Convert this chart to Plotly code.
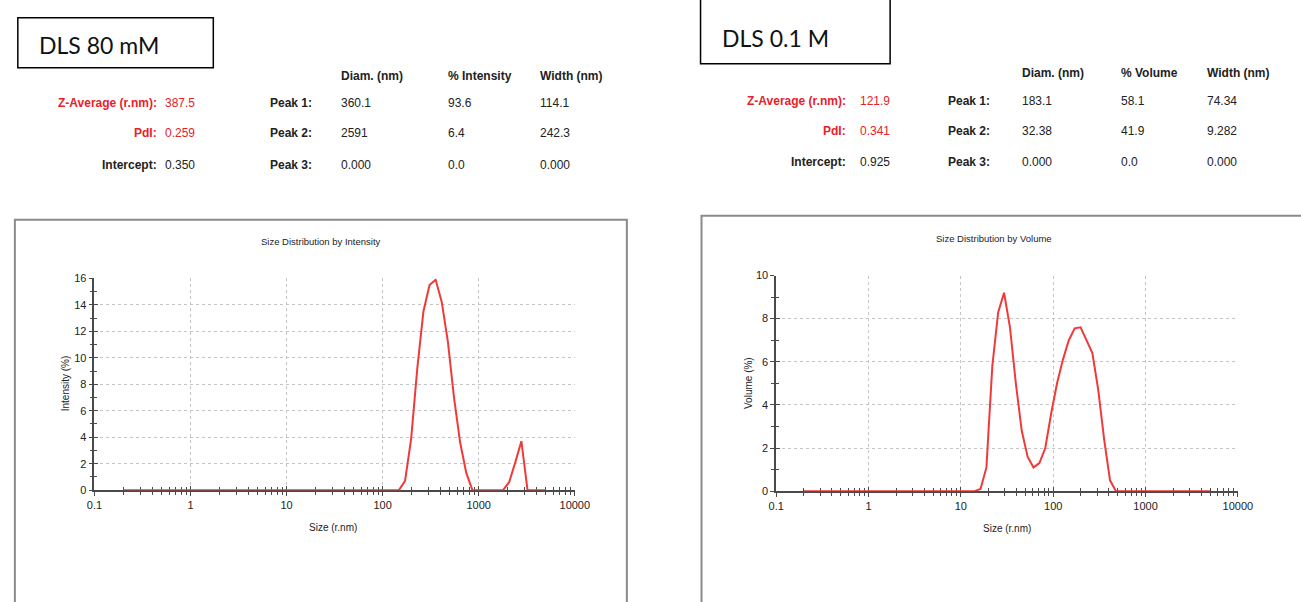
import plotly.graph_objects as go

W, H = 1301, 602

# Size distribution by intensity, 80 mM sample (radius bins in nm, intensity %)
int_size = [0.2, 147.65, 171.0, 198.05, 229.35, 265.6, 307.55, 356.2, 412.5, 477.7,
            553.0, 640.5, 742.0, 859.0, 1790.0, 2072.5, 2400.5, 2780.0, 3219.5, 5000.0]
int_pct = [0, 0, 0.7, 3.9, 9.2, 13.5, 15.5, 15.9, 14.2, 11.2,
           7.0, 3.6, 1.3, 0, 0, 0.6, 2.1, 3.7, 0, 0]

# Size distribution by volume, 0.1 M sample (radius bins in nm, volume %)
vol_size = [0.2, 14.105, 16.335, 18.92, 21.91, 25.375, 29.385, 34.03, 39.41, 45.64,
            52.85, 61.2, 70.9, 82.1, 95.05, 110.1, 127.5, 147.65, 171.0, 198.05,
            229.35, 265.6, 307.55, 356.2, 412.5, 477.7, 5000.0]
vol_pct = [0, 0, 0.1, 1.1, 5.8, 8.3, 9.2, 7.6, 5.0, 2.8,
           1.6, 1.1, 1.3, 2.0, 3.6, 5.0, 6.1, 7.0, 7.55, 7.6,
           7.0, 6.4, 4.7, 2.4, 0.5, 0, 0]

# Summary tables
stat_labels = ["Z-Average (r.nm):", "PdI:", "Intercept:"]
peak_labels = ["Peak 1:", "Peak 2:", "Peak 3:"]

left_title = "DLS 80 mM"
left_cols = ["Diam. (nm)", "% Intensity", "Width (nm)"]
left_stats = ["387.5", "0.259", "0.350"]
left_diam = ["360.1", "2591", "0.000"]
left_pct = ["93.6", "6.4", "0.0"]
left_width = ["114.1", "242.3", "0.000"]

right_title = "DLS 0.1 M"
right_cols = ["Diam. (nm)", "% Volume", "Width (nm)"]
right_stats = ["121.9", "0.341", "0.925"]
right_diam = ["183.1", "32.38", "0.000"]
right_pct = ["58.1", "41.9", "0.0"]
right_width = ["74.34", "9.282", "0.000"]

x_ticks = [0.1, 1, 10, 100, 1000, 10000]
x_ticktext = ["0.1", "1", "10", "100", "1000", "10000"]
x_minor = [m * d for d in [0.1, 1, 10, 100, 1000] for m in range(2, 10)]

RED = "#f03a3a"
TXT_RED = "#e8202a"
AX = "#4a4a4a"
GRID = "#c4c4c4"
FONT = "Liberation Sans, Arial, sans-serif"


def px(x):
    return x / W


def py(y):
    return 1 - y / H


fig = go.Figure()
fig.add_trace(go.Scatter(x=int_size, y=int_pct, mode="lines",
                         line=dict(color=RED, width=2), xaxis="x", yaxis="y",
                         showlegend=False, hoverinfo="skip"))
fig.add_trace(go.Scatter(x=vol_size, y=vol_pct, mode="lines",
                         line=dict(color=RED, width=2), xaxis="x2", yaxis="y2",
                         showlegend=False, hoverinfo="skip"))
# empty traces that carry the inner tick marks of each chart
fig.add_trace(go.Scatter(x=[], y=[], xaxis="x3", yaxis="y3", showlegend=False))
fig.add_trace(go.Scatter(x=[], y=[], xaxis="x4", yaxis="y4", showlegend=False))


def xaxis_cfg(x0, x1, anchor):
    return dict(type="log", range=[-1, 4], domain=[px(x0), px(x1)], anchor=anchor,
                tickmode="array", tickvals=x_ticks, ticktext=x_ticktext,
                showgrid=True, gridcolor=GRID, griddash="dot", gridwidth=1,
                showline=True, linecolor=AX, linewidth=1.5,
                ticks="outside", ticklen=4, tickcolor=AX,
                minor=dict(tickmode="array", tickvals=x_minor, ticks="outside",
                           ticklen=3, tickcolor=AX, showgrid=False),
                tickfont=dict(family=FONT, size=11, color="#222"),
                layer="below traces", zeroline=False, fixedrange=True)


def yaxis_cfg(y0, y1, top, anchor):
    return dict(range=[0, top], domain=[py(y1), py(y0)], anchor=anchor,
                dtick=2, tick0=0,
                showgrid=True, gridcolor=GRID, griddash="dot", gridwidth=1,
                showline=True, linecolor=AX, linewidth=1.5,
                ticks="outside", ticklen=4, tickcolor=AX,
                minor=dict(dtick=1, ticks="outside", ticklen=3, tickcolor=AX,
                           showgrid=False),
                tickfont=dict(family=FONT, size=11, color="#222"),
                layer="below traces", zeroline=False, fixedrange=True)


def inner_x(base, anchor):
    return dict(type="log", overlaying=base, matches=base, anchor=anchor,
                tickmode="array", tickvals=x_ticks, showticklabels=False,
                showgrid=False, showline=False, zeroline=False,
                ticks="inside", ticklen=4, tickcolor=AX,
                minor=dict(tickmode="array", tickvals=x_minor, ticks="inside",
                           ticklen=3, tickcolor=AX, showgrid=False),
                layer="below traces", fixedrange=True)


def inner_y(base, anchor):
    return dict(overlaying=base, matches=base, anchor=anchor,
                dtick=2, tick0=0, showticklabels=False,
                showgrid=False, showline=False, zeroline=False,
                ticks="inside", ticklen=4, tickcolor=AX,
                minor=dict(dtick=1, ticks="inside", ticklen=3, tickcolor=AX,
                           showgrid=False),
                layer="below traces", fixedrange=True)


fig.update_layout(
    width=W, height=H, margin=dict(l=0, r=0, t=0, b=0),
    paper_bgcolor="white", plot_bgcolor="white",
    xaxis=xaxis_cfg(88, 577, "y"),
    yaxis=yaxis_cfg(278, 494, 16, "x"),
    xaxis2=xaxis_cfg(782, 1252, "y2"),
    yaxis2=yaxis_cfg(275, 495, 10, "x2"),
    xaxis3=inner_x("x", "y3"),
    yaxis3=inner_y("y", "x3"),
    xaxis4=inner_x("x2", "y4"),
    yaxis4=inner_y("y2", "x4"),
)

shapes = []
# panel frames around each chart
shapes.append(dict(type="rect", xref="paper", yref="paper",
                   x0=px(7), x1=px(630), y0=py(620), y1=py(218),
                   line=dict(color="#8a8a8a", width=2), layer="below"))
shapes.append(dict(type="rect", xref="paper", yref="paper",
                   x0=px(706), x1=px(1320), y0=py(620), y1=py(214),
                   line=dict(color="#8a8a8a", width=2), layer="below"))
# title boxes
shapes.append(dict(type="rect", xref="paper", yref="paper",
                   x0=px(10), x1=px(209), y0=py(63), y1=py(12),
                   line=dict(color="black", width=1.5)))
shapes.append(dict(type="rect", xref="paper", yref="paper",
                   x0=px(705), x1=px(898), y0=py(59), y1=py(-10),
                   line=dict(color="black", width=1.5)))
fig.update_layout(shapes=shapes)

ann = []


def text(x, y, s, size=12, color="#222", bold=False, xanchor="left",
         family=FONT, textangle=0):
    ann.append(dict(x=px(x), y=py(y), xref="paper", yref="paper",
                    text=f"<b>{s}</b>" if bold else s, showarrow=False,
                    xanchor=xanchor, yanchor="middle", textangle=textangle,
                    font=dict(family=family, size=size, color=color)))


def header(title, tx, ty, cols, col_x, col_y, stats, stat_x_end, val_x,
           peak_x_end, diam, pct, width, rows_y):
    text(tx, ty, title, size=23, color="#111", family="Lato, Carlito, sans-serif")
    for c, cx in zip(cols, col_x):
        text(cx, col_y, c, size=12, bold=True)
    for i, ry in enumerate(rows_y):
        col = TXT_RED if i < 2 else "#222"
        text(stat_x_end, ry, stat_labels[i], size=12, bold=True, color=col,
             xanchor="right")
        text(val_x, ry, stats[i], size=12, color=col)
        text(peak_x_end, ry, peak_labels[i], size=12, bold=True, xanchor="right")
        text(col_x[0], ry, diam[i], size=12)
        text(col_x[1], ry, pct[i], size=12)
        text(col_x[2], ry, width[i], size=12)


header(left_title, 30, 40, left_cols, [337, 446, 540], 71, left_stats, 154, 158,
       312, left_diam, left_pct, left_width, [99, 130, 162])
header(right_title, 725, 33, right_cols, [1030, 1131, 1219], 68, right_stats, 855, 865,
       1002, right_diam, right_pct, right_width, [97, 128, 159])

# chart titles and axis titles
text(319, 240, "Size Distribution by Intensity", size=9.5, xanchor="center")
text(331, 532, "Size (r.nm)", size=10, xanchor="center")
text(58, 385, "Intensity (%)", size=10, xanchor="center", textangle=-90)

text(1004, 237, "Size Distribution by Volume", size=9.5, xanchor="center")
text(1017, 533, "Size (r.nm)", size=10, xanchor="center")
text(754, 385, "Volume (%)", size=10, xanchor="center", textangle=-90)

fig.update_layout(annotations=ann)
fig.write_html("out.html")
